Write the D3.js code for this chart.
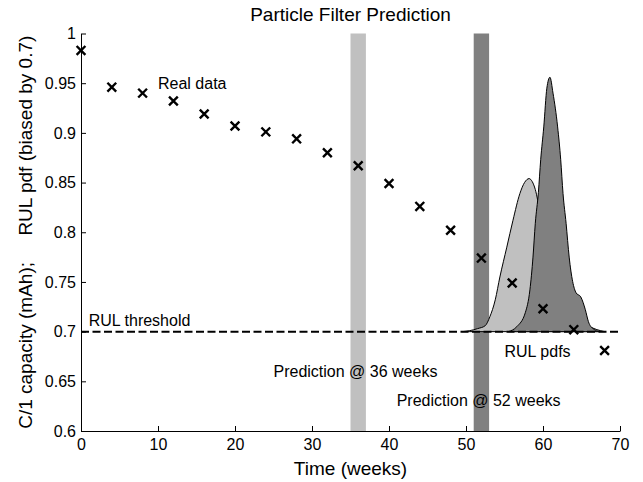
<!DOCTYPE html>
<html>
<head>
<meta charset="utf-8">
<script src="https://cdn.jsdelivr.net/npm/d3@7"></script>
<style>
  body { margin: 0; background: #fff; }
  svg { font-family: "Liberation Sans", Arial, Helvetica, sans-serif; display: block; }
  .axis path, .axis line { stroke: #000; }
  .axis text { font-size: 16px; fill: #000; font-family: "Liberation Sans", Arial, sans-serif; }
</style>
</head>
<body>
<svg id="chart"></svg>
<script>
// measured capacity, one point every 4 weeks
const weeks = [0, 4, 8, 12, 16, 20, 24, 28, 32, 36, 40, 44, 48, 52, 56, 60, 64, 68];
const capacity = [0.983, 0.946, 0.940, 0.932, 0.919, 0.907, 0.901, 0.894, 0.880,
  0.867, 0.849, 0.826, 0.802, 0.774, 0.749, 0.723, 0.702, 0.681];

// RUL pdf from the prediction made at week 36 (biased by 0.7)
const pdf36Weeks = [49.5, 50.5, 51.5, 52.5, 53.1, 53.8, 54.4, 55.3, 56.1, 57.0, 57.6, 58.2,
  58.6, 59.0, 59.6, 60.3, 61, 62, 63, 64, 65, 66, 67, 68];
const pdf36Values = [0.700, 0.701, 0.703, 0.706, 0.715, 0.732, 0.755, 0.785, 0.812, 0.839, 0.850, 0.854,
  0.851, 0.843, 0.820, 0.790, 0.760, 0.730, 0.715, 0.710, 0.707, 0.705, 0.702, 0.700];

// RUL pdf from the prediction made at week 52
const pdf52Weeks = [55.5, 56.6, 57.7, 58.3, 58.7, 59.0, 59.4, 59.7, 60.1, 60.5, 60.9, 61.3,
  61.9, 62.3, 62.6, 63.0, 63.4, 64.3, 64.9, 65.5, 65.9, 66.5, 67.4];
const pdf52Values = [0.700, 0.705, 0.719, 0.742, 0.775, 0.809, 0.840, 0.873, 0.906, 0.945, 0.956, 0.940,
  0.906, 0.873, 0.839, 0.809, 0.775, 0.739, 0.735, 0.722, 0.710, 0.703, 0.700];

const threshold = 0.7;
const predictionBands = [[35, 37], [51, 53]];
const bandColors = ["#c0c0c0", "#808080"];

const xTicks = [0, 10, 20, 30, 40, 50, 60, 70];
const yTicks = [0.6, 0.65, 0.7, 0.75, 0.8, 0.85, 0.9, 0.95, 1];

const notes = [
  { text: "Real data", x: 10, y: 0.95 },
  { text: "RUL threshold", x: 1, y: 0.711 },
  { text: "Prediction @ 36 weeks", x: 25, y: 0.66 },
  { text: "Prediction @ 52 weeks", x: 41, y: 0.631 },
  { text: "RUL pdfs", x: 55, y: 0.68 },
];

class PredictionChart {
  margin = { top: 33.5, right: 23, bottom: 51, left: 81 };

  constructor(svg, width = 643, height = 482) {
    this.svg = d3.select(svg);
    this.outerWidth = width;
    this.outerHeight = height;
    this.width = width - this.margin.left - this.margin.right;
    this.height = height - this.margin.top - this.margin.bottom;
  }

  initialize() {
    this.svg.attr("width", this.outerWidth).attr("height", this.outerHeight);
    this.xScale = d3.scaleLinear().domain([0, 70])
      .range([this.margin.left, this.margin.left + this.width]);
    this.yScale = d3.scaleLinear().domain([0.6, 1])
      .range([this.margin.top + this.height, this.margin.top]);
    this.bands = this.svg.append("g");
    this.pdfs = this.svg.append("g");
    this.lines = this.svg.append("g");
    this.points = this.svg.append("g");
    this.labels = this.svg.append("g");
    this.xAxis = this.svg.append("g").attr("class", "axis");
    this.yAxis = this.svg.append("g").attr("class", "axis");
  }

  update() {
    const x = this.xScale, y = this.yScale;

    this.bands.selectAll("rect").data(predictionBands).join("rect")
      .attr("x", (d) => x(d[0]))
      .attr("width", (d) => x(d[1]) - x(d[0]))
      .attr("y", y(1))
      .attr("height", y(0.6) - y(1))
      .attr("fill", (d, i) => bandColors[i]);

    const area = d3.area()
      .x((d) => x(d[0]))
      .y0(y(threshold))
      .y1((d) => y(d[1]))
      .curve(d3.curveMonotoneX);

    const pdfSets = [
      d3.zip(pdf36Weeks, pdf36Values),
      d3.zip(pdf52Weeks, pdf52Values),
    ];
    this.pdfs.selectAll("path").data(pdfSets).join("path")
      .attr("d", area)
      .attr("fill", (d, i) => bandColors[i])
      .attr("stroke", "#000")
      .attr("stroke-width", 1);

    this.lines.append("line")
      .attr("x1", x(0)).attr("x2", x(70))
      .attr("y1", y(threshold)).attr("y2", y(threshold))
      .attr("stroke", "#000")
      .attr("stroke-width", 2)
      .attr("stroke-dasharray", "8,3.5");

    const marker = d3.symbol(d3.symbolX, 52);
    this.points.selectAll("path").data(d3.zip(weeks, capacity)).join("path")
      .attr("d", marker)
      .attr("transform", (d) => `translate(${x(d[0])},${y(d[1])})`)
      .attr("fill", "none")
      .attr("stroke", "#000")
      .attr("stroke-width", 2.4);

    this.labels.selectAll("text").data(notes).join("text")
      .attr("x", (d) => x(d.x))
      .attr("y", (d) => y(d.y))
      .attr("dy", "0.35em")
      .style("font-size", "16px")
      .text((d) => d.text);

    this.xAxis
      .attr("transform", `translate(0,${y(0.6)})`)
      .call(d3.axisBottom(x).tickValues(xTicks).tickSize(-5).tickSizeOuter(0).tickPadding(8));
    this.yAxis
      .attr("transform", `translate(${x(0)},0)`)
      .call(d3.axisLeft(y).tickValues(yTicks).tickSize(-5).tickSizeOuter(0).tickPadding(5)
        .tickFormat((d) => String(+d.toFixed(2))));

    const cx = x(35);
    this.svg.append("text")
      .attr("x", cx).attr("y", 20.5)
      .attr("text-anchor", "middle")
      .style("font-size", "19px")
      .text("Particle Filter Prediction");
    this.svg.append("text")
      .attr("x", cx).attr("y", 475)
      .attr("text-anchor", "middle")
      .style("font-size", "19px")
      .text("Time (weeks)");
    this.svg.append("text")
      .attr("transform", `translate(32,${y(0.8)}) rotate(-90)`)
      .attr("text-anchor", "middle")
      .style("font-size", "19px")
      .style("white-space", "pre")
      .text("C/1 capacity (mAh);     RUL pdf (biased by 0.7)");
  }
}

const chart = new PredictionChart(document.getElementById("chart"));
chart.initialize();
chart.update();
</script>
</body>
</html>
